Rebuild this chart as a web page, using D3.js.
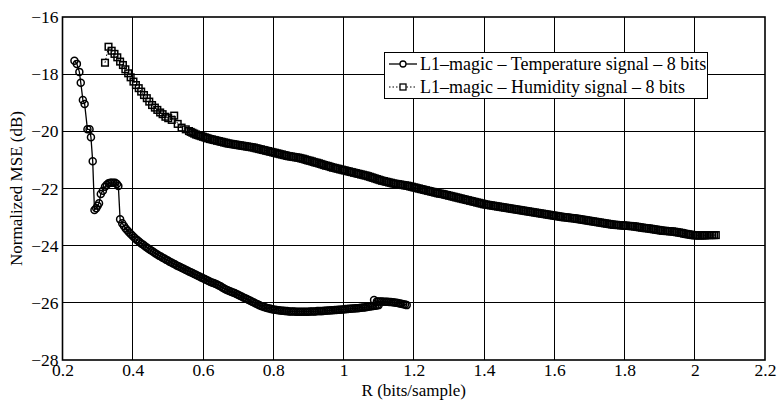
<!DOCTYPE html>
<html>
<head>
<meta charset="utf-8">
<script src="https://cdn.jsdelivr.net/npm/d3@7"></script>
<style>
  html, body { margin: 0; padding: 0; background: #fff; }
  svg { display: block; }
  text { font-family: "Liberation Serif", "Times New Roman", Times, serif; fill: #000; }
</style>
</head>
<body>
<svg id="chart" width="777" height="401"></svg>
<script>
// ---------- DATA ----------
const xTicks = [0.2, 0.4, 0.6, 0.8, 1, 1.2, 1.4, 1.6, 1.8, 2, 2.2];
const yTicks = [-28, -26, -24, -22, -20, -18, -16];
const xTickLabels = ["0.2", "0.4", "0.6", "0.8", "1", "1.2", "1.4", "1.6", "1.8", "2", "2.2"];
const yTickLabels = ["\u221228", "\u221226", "\u221224", "\u221222", "\u221220", "\u221218", "\u221216"];
const seriesNames = ["L1\u2013magic \u2013 Temperature signal \u2013 8 bits",
                     "L1\u2013magic \u2013 Humidity signal \u2013 8 bits"];

// Temperature signal: rate (bits/sample)
const tempR = [
  0.234, 0.241, 0.248, 0.252, 0.258, 0.263, 0.271, 0.277, 0.281, 0.286,
  0.291, 0.296, 0.300, 0.304, 0.309, 0.315, 0.321, 0.326, 0.331, 0.336,
  0.340, 0.345, 0.350, 0.355, 0.359, 0.364,
  0.370, 0.375, 0.380, 0.385, 0.390, 0.395, 0.400, 0.405, 0.410, 0.415,
  0.420, 0.425, 0.430, 0.435, 0.440, 0.445, 0.450, 0.455, 0.460, 0.465,
  0.470, 0.475, 0.480, 0.485, 0.490, 0.495, 0.500, 0.505, 0.510, 0.515,
  0.520, 0.525, 0.530, 0.535, 0.540, 0.545, 0.550, 0.555, 0.560, 0.565,
  0.570, 0.575, 0.580, 0.585, 0.590, 0.595, 0.600, 0.605, 0.610, 0.615,
  0.620, 0.625, 0.630, 0.635, 0.640, 0.645, 0.650, 0.655, 0.660, 0.665,
  0.670, 0.675, 0.680, 0.685, 0.690, 0.695, 0.700, 0.705, 0.710, 0.715,
  0.720, 0.725, 0.730, 0.735, 0.740, 0.745, 0.750, 0.755, 0.760, 0.765,
  0.770, 0.775, 0.780, 0.785, 0.790, 0.795, 0.800, 0.805, 0.810, 0.815,
  0.820, 0.825, 0.830, 0.835, 0.840, 0.845, 0.850, 0.855, 0.860, 0.865,
  0.870, 0.875, 0.880, 0.885, 0.890, 0.895, 0.900, 0.905, 0.910, 0.915,
  0.920, 0.925, 0.930, 0.935, 0.940, 0.945, 0.950, 0.955, 0.960, 0.965,
  0.970, 0.975, 0.980, 0.985, 0.990, 0.995, 1.000, 1.005, 1.010, 1.015,
  1.020, 1.025, 1.030, 1.035, 1.040, 1.045, 1.050, 1.055, 1.060, 1.065,
  1.070, 1.075, 1.080, 1.085, 1.090, 1.095, 1.100,
  1.087, 1.095, 1.100, 1.105, 1.110, 1.115, 1.120, 1.125, 1.130, 1.135,
  1.140, 1.145, 1.150, 1.155, 1.160, 1.165, 1.170, 1.175, 1.180
];
// Temperature signal: normalized MSE (dB)
const tempMSE = [
  -17.53, -17.64, -17.92, -18.30, -18.90, -19.04, -19.93, -19.93, -20.21, -21.05,
  -22.75, -22.69, -22.60, -22.52, -22.19, -22.08, -21.94, -21.87, -21.82, -21.80,
  -21.80, -21.80, -21.80, -21.84, -21.91, -23.08,
  -23.22, -23.31, -23.40, -23.47, -23.54, -23.60, -23.66, -23.72, -23.78, -23.83,
  -23.88, -23.93, -23.97, -24.02, -24.06, -24.11, -24.15, -24.19, -24.23, -24.27,
  -24.31, -24.35, -24.38, -24.42, -24.45, -24.49, -24.52, -24.56, -24.59, -24.62,
  -24.65, -24.69, -24.72, -24.75, -24.78, -24.81, -24.84, -24.87, -24.90, -24.93,
  -24.96, -24.99, -25.02, -25.05, -25.08, -25.11, -25.14, -25.17, -25.20, -25.23,
  -25.26, -25.29, -25.31, -25.33, -25.36, -25.39, -25.42, -25.46, -25.50, -25.53,
  -25.56, -25.59, -25.61, -25.64, -25.66, -25.69, -25.72, -25.75, -25.78, -25.81,
  -25.84, -25.87, -25.90, -25.93, -25.96, -25.99, -26.02, -26.05, -26.08, -26.11,
  -26.13, -26.15, -26.17, -26.19, -26.20, -26.22, -26.23, -26.24, -26.25, -26.26,
  -26.27, -26.28, -26.28, -26.29, -26.29, -26.30, -26.30, -26.30, -26.30, -26.31,
  -26.31, -26.31, -26.31, -26.31, -26.31, -26.31, -26.31, -26.30, -26.30, -26.30,
  -26.30, -26.29, -26.29, -26.29, -26.29, -26.28, -26.28, -26.27, -26.27, -26.26,
  -26.26, -26.25, -26.25, -26.24, -26.24, -26.23, -26.23, -26.22, -26.22, -26.21,
  -26.21, -26.20, -26.20, -26.19, -26.19, -26.18, -26.17, -26.16, -26.16, -26.15,
  -26.14, -26.13, -26.12, -26.11, -26.10, -26.09, -26.08,
  -25.90, -25.95, -25.95, -25.95, -25.95, -25.96, -25.96, -25.96, -25.97, -25.97,
  -25.98, -25.99, -26.00, -26.01, -26.02, -26.03, -26.05, -26.06, -26.08
];

// Humidity signal: rate (bits/sample)
const humR = [
  0.321, 0.331, 0.340, 0.348, 0.356, 0.364, 0.372, 0.379, 0.387, 0.394,
  0.402, 0.409, 0.417, 0.424, 0.432, 0.440, 0.447, 0.455, 0.463, 0.470,
  0.478, 0.485, 0.493, 0.501, 0.511, 0.518, 0.528, 0.539, 0.551,
  0.560, 0.565, 0.570, 0.575, 0.580, 0.585, 0.590, 0.595, 0.600, 0.605,
  0.610, 0.615, 0.620, 0.625, 0.630, 0.635, 0.640, 0.645, 0.650, 0.655,
  0.660, 0.665, 0.670, 0.675, 0.680, 0.685, 0.690, 0.695, 0.700, 0.705,
  0.710, 0.715, 0.720, 0.725, 0.730, 0.735, 0.740, 0.745, 0.750, 0.755,
  0.760, 0.765, 0.770, 0.775, 0.780, 0.785, 0.790, 0.795, 0.800, 0.805,
  0.810, 0.815, 0.820, 0.825, 0.830, 0.835, 0.840, 0.845, 0.850, 0.855,
  0.860, 0.865, 0.870, 0.875, 0.880, 0.885, 0.890, 0.895, 0.900, 0.905,
  0.910, 0.915, 0.920, 0.925, 0.930, 0.935, 0.940, 0.945, 0.950, 0.955,
  0.960, 0.965, 0.970, 0.975, 0.980, 0.985, 0.990, 0.995, 1.000, 1.005,
  1.010, 1.015, 1.020, 1.025, 1.030, 1.035, 1.040, 1.045, 1.050, 1.055,
  1.060, 1.065, 1.070, 1.075, 1.080, 1.085, 1.090, 1.095, 1.100, 1.105,
  1.110, 1.115, 1.120, 1.125, 1.130, 1.135, 1.140, 1.145, 1.150, 1.155,
  1.160, 1.165, 1.170, 1.175, 1.180, 1.185, 1.190, 1.195, 1.200, 1.205,
  1.210, 1.215, 1.220, 1.225, 1.230, 1.235, 1.240, 1.245, 1.250, 1.255,
  1.260, 1.265, 1.270, 1.275, 1.280, 1.285, 1.290, 1.295, 1.300, 1.305,
  1.310, 1.315, 1.320, 1.325, 1.330, 1.335, 1.340, 1.345, 1.350, 1.355,
  1.360, 1.365, 1.370, 1.375, 1.380, 1.385, 1.390, 1.395, 1.400, 1.405,
  1.410, 1.415, 1.420, 1.425, 1.430, 1.435, 1.440, 1.445, 1.450, 1.455,
  1.460, 1.465, 1.470, 1.475, 1.480, 1.485, 1.490, 1.495, 1.500, 1.505,
  1.510, 1.515, 1.520, 1.525, 1.530, 1.535, 1.540, 1.545, 1.550, 1.555,
  1.560, 1.565, 1.570, 1.575, 1.580, 1.585, 1.590, 1.595, 1.600, 1.605,
  1.610, 1.615, 1.620, 1.625, 1.630, 1.635, 1.640, 1.645, 1.650, 1.655,
  1.660, 1.665, 1.670, 1.675, 1.680, 1.685, 1.690, 1.695, 1.700, 1.705,
  1.710, 1.715, 1.720, 1.725, 1.730, 1.735, 1.740, 1.745, 1.750, 1.755,
  1.760, 1.765, 1.770, 1.775, 1.780, 1.785, 1.790, 1.795, 1.800, 1.805,
  1.810, 1.815, 1.820, 1.825, 1.830, 1.835, 1.840, 1.845, 1.850, 1.855,
  1.860, 1.865, 1.870, 1.875, 1.880, 1.885, 1.890, 1.895, 1.900, 1.905,
  1.910, 1.915, 1.920, 1.925, 1.930, 1.935, 1.940, 1.945, 1.950, 1.955,
  1.960, 1.965, 1.970, 1.975, 1.980, 1.985, 1.990, 1.995, 2.000, 2.005,
  2.010, 2.015, 2.020, 2.025, 2.030, 2.035, 2.040, 2.045, 2.050, 2.055,
  2.060
];
// Humidity signal: normalized MSE (dB)
const humMSE = [
  -17.60, -17.04, -17.18, -17.29, -17.41, -17.56, -17.68, -17.83, -17.97, -18.11,
  -18.26, -18.38, -18.49, -18.61, -18.73, -18.84, -18.96, -19.08, -19.17, -19.25,
  -19.34, -19.40, -19.49, -19.54, -19.60, -19.45, -19.74, -19.87, -19.93,
  -19.99, -20.02, -20.05, -20.08, -20.11, -20.13, -20.15, -20.17, -20.19, -20.21,
  -20.23, -20.25, -20.27, -20.28, -20.30, -20.31, -20.33, -20.34, -20.36, -20.37,
  -20.39, -20.40, -20.42, -20.43, -20.44, -20.45, -20.46, -20.47, -20.48, -20.49,
  -20.50, -20.51, -20.52, -20.53, -20.54, -20.55, -20.56, -20.57, -20.59, -20.60,
  -20.62, -20.63, -20.65, -20.66, -20.68, -20.69, -20.71, -20.72, -20.74, -20.75,
  -20.77, -20.78, -20.80, -20.81, -20.83, -20.84, -20.86, -20.87, -20.88, -20.89,
  -20.90, -20.91, -20.92, -20.93, -20.95, -20.96, -20.98, -21.00, -21.02, -21.03,
  -21.05, -21.07, -21.09, -21.10, -21.12, -21.14, -21.16, -21.18, -21.20, -21.21,
  -21.23, -21.25, -21.27, -21.28, -21.30, -21.31, -21.33, -21.34, -21.36, -21.37,
  -21.39, -21.40, -21.42, -21.43, -21.45, -21.46, -21.48, -21.49, -21.51, -21.52,
  -21.54, -21.55, -21.57, -21.59, -21.61, -21.63, -21.65, -21.67, -21.69, -21.71,
  -21.73, -21.74, -21.76, -21.77, -21.79, -21.80, -21.82, -21.83, -21.84, -21.85,
  -21.86, -21.87, -21.88, -21.89, -21.90, -21.91, -21.93, -21.94, -21.96, -21.97,
  -21.99, -22.00, -22.02, -22.03, -22.05, -22.06, -22.08, -22.09, -22.11, -22.12,
  -22.14, -22.15, -22.17, -22.18, -22.19, -22.20, -22.22, -22.23, -22.25, -22.26,
  -22.28, -22.29, -22.31, -22.32, -22.34, -22.35, -22.37, -22.38, -22.40, -22.41,
  -22.43, -22.44, -22.46, -22.47, -22.49, -22.50, -22.52, -22.53, -22.55, -22.56,
  -22.57, -22.58, -22.59, -22.60, -22.61, -22.62, -22.63, -22.64, -22.65, -22.66,
  -22.67, -22.68, -22.69, -22.70, -22.71, -22.72, -22.73, -22.74, -22.75, -22.76,
  -22.77, -22.78, -22.79, -22.80, -22.81, -22.82, -22.83, -22.84, -22.85, -22.86,
  -22.87, -22.88, -22.89, -22.90, -22.91, -22.92, -22.93, -22.94, -22.95, -22.96,
  -22.97, -22.98, -22.99, -23.00, -23.01, -23.01, -23.02, -23.03, -23.04, -23.04,
  -23.05, -23.06, -23.07, -23.08, -23.09, -23.10, -23.11, -23.12, -23.13, -23.14,
  -23.15, -23.16, -23.17, -23.18, -23.19, -23.20, -23.21, -23.22, -23.23, -23.24,
  -23.25, -23.26, -23.27, -23.27, -23.28, -23.28, -23.29, -23.29, -23.30, -23.30,
  -23.31, -23.31, -23.32, -23.32, -23.33, -23.34, -23.35, -23.36, -23.37, -23.38,
  -23.39, -23.39, -23.40, -23.41, -23.42, -23.43, -23.44, -23.45, -23.46, -23.47,
  -23.48, -23.48, -23.49, -23.49, -23.50, -23.50, -23.51, -23.52, -23.53, -23.54,
  -23.55, -23.56, -23.58, -23.59, -23.60, -23.61, -23.62, -23.63, -23.64, -23.64,
  -23.64, -23.64, -23.64, -23.64, -23.64, -23.63, -23.63, -23.63, -23.63, -23.63,
  -23.63
];

// ---------- CHART ----------
const W = 777, H = 401;
const margin = { left: 62.5, right: 12, top: 17, bottom: 41 };
const FONT = '"Liberation Serif", "Times New Roman", Times, serif';
const svg = d3.select("#chart");
const x = d3.scaleLinear().domain([0.2, 2.2]).range([margin.left, W - margin.right]);
const y = d3.scaleLinear().domain([-28, -16]).range([H - margin.bottom, margin.top]);

const plotL = x(0.2), plotR = x(2.2), plotT = y(-16), plotB = y(-28);

// grid
const grid = svg.append("g").attr("stroke", "#000").attr("stroke-width", 1).attr("shape-rendering", "crispEdges");
xTicks.slice(1, -1).forEach(t => {
  grid.append("line").attr("x1", x(t)).attr("x2", x(t)).attr("y1", plotT).attr("y2", plotB);
});
yTicks.slice(1, -1).forEach(t => {
  grid.append("line").attr("x1", plotL).attr("x2", plotR).attr("y1", y(t)).attr("y2", y(t));
});

// axes with labels
const xAxis = d3.axisBottom(x).tickValues(xTicks).tickFormat((d, i) => xTickLabels[i]).tickSize(0).tickPadding(4);
const gx = svg.append("g").attr("transform", `translate(0,${plotB})`).call(xAxis)
  .attr("font-family", FONT).attr("font-size", 17.5);
gx.select(".domain").remove();

const yAxis = d3.axisLeft(y).tickValues(yTicks).tickFormat((d, i) => yTickLabels[i]).tickSize(0).tickPadding(4);
const gy = svg.append("g").attr("transform", `translate(${plotL},0)`).call(yAxis)
  .attr("font-family", FONT).attr("font-size", 17.5);
gy.select(".domain").remove();

// axis titles
svg.append("text").attr("x", (plotL + plotR) / 2).attr("y", 396)
  .attr("text-anchor", "middle").style("font-size", "17px").text("R (bits/sample)");
svg.append("text").attr("transform", `translate(22,${(plotT + plotB) / 2}) rotate(-90)`)
  .attr("text-anchor", "middle").style("font-size", "17px").text("Normalized MSE (dB)");

// series
const temp = tempR.map((r, i) => ({ r, v: tempMSE[i] }));
const hum = humR.map((r, i) => ({ r, v: humMSE[i] }));
const line = d3.line().x(d => x(d.r)).y(d => y(d.v));

svg.append("path").datum(temp).attr("d", line)
  .attr("fill", "none").attr("stroke", "#000").attr("stroke-width", 1.3);
svg.append("path").datum(hum).attr("d", line)
  .attr("fill", "none").attr("stroke", "#000").attr("stroke-width", 1).attr("stroke-dasharray", "1.5,2");

svg.append("g").selectAll("circle").data(temp).join("circle")
  .attr("cx", d => x(d.r)).attr("cy", d => y(d.v)).attr("r", 3.5)
  .attr("fill", "none").attr("stroke", "#000").attr("stroke-width", 1.5);

const sq = 6.6;
svg.append("g").selectAll("rect").data(hum).join("rect")
  .attr("x", d => x(d.r) - sq / 2).attr("y", d => y(d.v) - sq / 2)
  .attr("width", sq).attr("height", sq)
  .attr("fill", "none").attr("stroke", "#000").attr("stroke-width", 1.5);

// frame
svg.append("rect").attr("x", plotL).attr("y", plotT).attr("width", plotR - plotL).attr("height", plotB - plotT)
  .attr("fill", "none").attr("stroke", "#000").attr("stroke-width", 1.6);

// legend
const lg = svg.append("g");
lg.append("rect").attr("x", 384.5).attr("y", 52.5).attr("width", 323).attr("height", 46)
  .attr("fill", "#fff").attr("stroke", "#000").attr("stroke-width", 1);
const rows = [64, 87];
lg.append("line").attr("x1", 389).attr("x2", 417).attr("y1", rows[0]).attr("y2", rows[0])
  .attr("stroke", "#000").attr("stroke-width", 1.3);
lg.append("circle").attr("cx", 403).attr("cy", rows[0]).attr("r", 3)
  .attr("fill", "#fff").attr("stroke", "#000").attr("stroke-width", 1.3);
lg.append("line").attr("x1", 389).attr("x2", 417).attr("y1", rows[1]).attr("y2", rows[1])
  .attr("stroke", "#000").attr("stroke-width", 1).attr("stroke-dasharray", "1.5,2");
lg.append("rect").attr("x", 400).attr("y", rows[1] - 3).attr("width", 6).attr("height", 6)
  .attr("fill", "#fff").attr("stroke", "#000").attr("stroke-width", 1.3);
seriesNames.forEach((name, i) => {
  lg.append("text").attr("x", 420).attr("y", rows[i]).attr("dy", "0.35em")
    .style("font-size", "18px").text(name);
});
</script>
</body>
</html>
